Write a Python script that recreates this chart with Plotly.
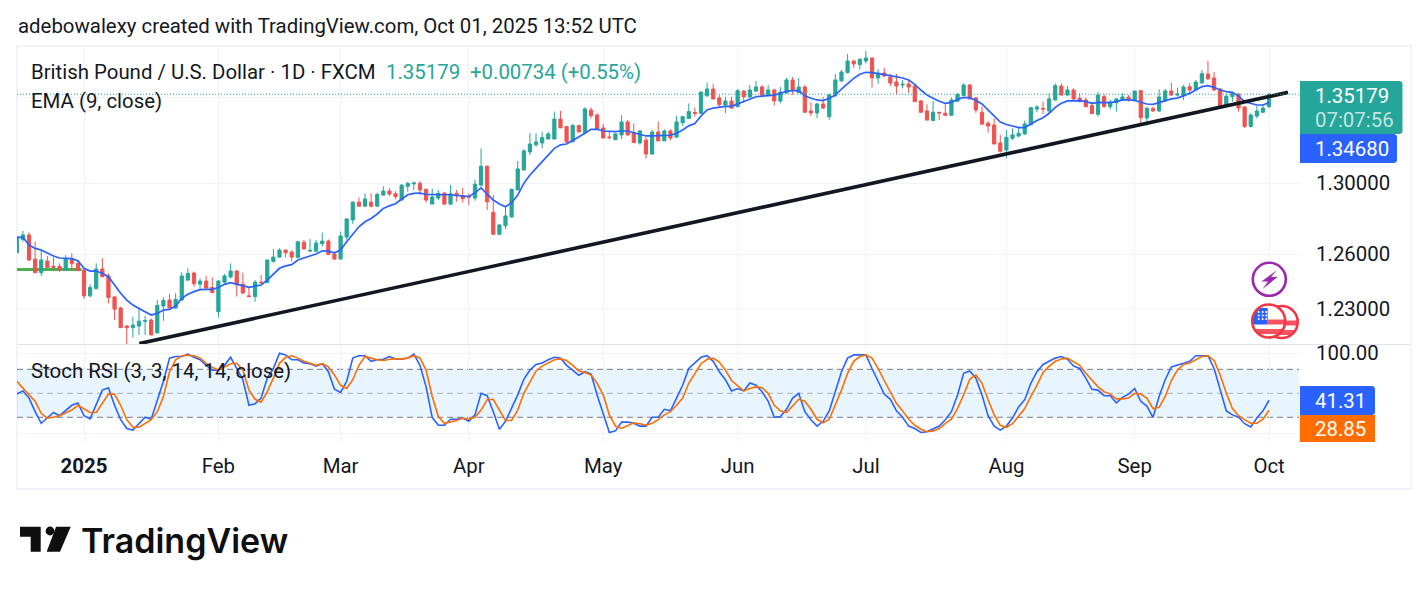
import math
import plotly.graph_objects as go

WIDTH, HEIGHT = 1428, 591
FONT = "Roboto"
INK = "#131722"
GRID = "#f0f3fa"
UP = "#26a69a"
DOWN = "#ef5350"
BLUE = "#2962ff"
ORANGE = "#ff6d00"

# Daily GBP/USD candles; bar 0 is mid December 2024
open_ = [
    1.2607,1.2681,1.2706,1.2572,1.2497,1.2561,1.2532,1.2532,1.2512,1.2570,
    1.2548,1.2512,1.2370,1.2409,1.2517,1.2479,1.2364,1.2304,1.2207,1.2198,
    1.2207,1.2232,1.2239,1.2170,1.2315,1.2347,1.2304,1.2347,1.2456,1.2495,
    1.2434,1.2451,1.2416,1.2284,1.2445,1.2473,1.2506,1.2434,1.2370,1.2366,
    1.2445,1.2442,1.2559,1.2583,1.2622,1.2611,1.2581,1.2666,1.2616,1.2616,
    1.2657,1.2672,1.2600,1.2572,1.2695,1.2790,1.2891,1.2868,1.2891,1.2868,
    1.2931,1.2954,1.2939,1.2903,1.2981,1.2995,1.2998,1.2964,1.2880,1.2914,
    1.2943,1.2880,1.2941,1.2928,1.2926,1.2914,1.2988,1.3096,1.2833,1.2710,
    1.2758,1.2807,1.2960,1.3075,1.3179,1.3220,1.3231,1.3254,1.3254,1.3371,
    1.3327,1.3237,1.3333,1.3291,1.3425,1.3395,1.3319,1.3266,1.3250,1.3278,
    1.3354,1.3290,1.3231,1.3248,1.3167,1.3295,1.3243,1.3301,1.3266,1.3350,
    1.3375,1.3410,1.3405,1.3509,1.3549,1.3496,1.3454,1.3478,1.3444,1.3537,
    1.3501,1.3537,1.3561,1.3511,1.3543,1.3478,1.3525,1.3603,1.3527,1.3561,
    1.3419,1.3407,1.3460,1.3385,1.3509,1.3597,1.3647,1.3717,1.3695,1.3717,
    1.3735,1.3615,1.3645,1.3621,1.3591,1.3573,1.3579,1.3567,1.3478,1.3419,
    1.3363,1.3411,1.3405,1.3393,1.3476,1.3511,1.3573,1.3496,1.3411,1.3347,
    1.3336,1.3231,1.3190,1.3258,1.3272,1.3284,1.3338,1.3430,1.3434,1.3419,
    1.3484,1.3567,1.3513,1.3543,1.3494,1.3484,1.3450,1.3399,1.3504,1.3444,
    1.3468,1.3484,1.3500,1.3480,1.3539,1.3377,1.3434,1.3419,1.3478,1.3537,
    1.3513,1.3509,1.3563,1.3545,1.3585,1.3639,1.3615,1.3549,1.3448,1.3504,
    1.3519,1.3442,1.3328,1.3389,1.3411,1.34445,
]
high = [
    1.2700,1.2728,1.2721,1.2668,1.2622,1.2589,1.2581,1.2548,1.2594,1.2604,
    1.2567,1.2521,1.2433,1.2548,1.2576,1.2493,1.2370,1.2311,1.2212,1.2257,
    1.2307,1.2261,1.2248,1.2347,1.2362,1.2380,1.2384,1.2499,1.2521,1.2503,
    1.2466,1.2479,1.2470,1.2456,1.2490,1.2548,1.2512,1.2497,1.2420,1.2456,
    1.2484,1.2567,1.2628,1.2631,1.2626,1.2622,1.2674,1.2678,1.2683,1.2678,
    1.2719,1.2681,1.2613,1.2725,1.2800,1.2895,1.2918,1.2941,1.2941,1.2945,
    1.2981,1.2970,1.2954,1.2992,1.3006,1.3008,1.3010,1.2968,1.2968,1.2960,
    1.2947,1.2988,1.2960,1.2972,1.2941,1.3019,1.3200,1.3102,1.2931,1.2768,
    1.2865,1.2968,1.3127,1.3196,1.3288,1.3288,1.3297,1.3297,1.3415,1.3419,
    1.3330,1.3343,1.3337,1.3441,1.3441,1.3405,1.3343,1.3297,1.3288,1.3393,
    1.3366,1.3346,1.3307,1.3266,1.3307,1.3356,1.3311,1.3311,1.3391,1.3391,
    1.3464,1.3438,1.3533,1.3587,1.3579,1.3513,1.3503,1.3503,1.3549,1.3543,
    1.3573,1.3597,1.3573,1.3573,1.3551,1.3561,1.3615,1.3621,1.3615,1.3573,
    1.3470,1.3468,1.3501,1.3523,1.3639,1.3663,1.3759,1.3725,1.3735,1.3777,
    1.3739,1.3669,1.3675,1.3639,1.3639,1.3603,1.3609,1.3573,1.3484,1.3458,
    1.3478,1.3411,1.3460,1.3499,1.3525,1.3583,1.3579,1.3499,1.3446,1.3359,
    1.3375,1.3279,1.3307,1.3316,1.3327,1.3362,1.3440,1.3454,1.3474,1.3523,
    1.3583,1.3583,1.3567,1.3553,1.3523,1.3498,1.3474,1.3533,1.3519,1.3484,
    1.3494,1.3523,1.3513,1.3539,1.3543,1.3444,1.3444,1.3547,1.3549,1.3587,
    1.3557,1.3573,1.3583,1.3603,1.3663,1.3718,1.3651,1.3553,1.3523,1.3533,
    1.3523,1.3448,1.3405,1.3448,1.3460,1.3525,
]
low = [
    1.2607,1.2668,1.2561,1.2497,1.2479,1.2512,1.2512,1.2501,1.2512,1.2512,
    1.2508,1.2353,1.2362,1.2409,1.2471,1.2329,1.2239,1.2198,1.2110,1.2145,
    1.2159,1.2159,1.2159,1.2168,1.2235,1.2304,1.2302,1.2344,1.2456,1.2420,
    1.2405,1.2409,1.2384,1.2252,1.2438,1.2466,1.2366,1.2379,1.2366,1.2338,
    1.2429,1.2442,1.2552,1.2579,1.2581,1.2559,1.2576,1.2628,1.2613,1.2613,
    1.2641,1.2594,1.2567,1.2572,1.2680,1.2768,1.2865,1.2865,1.2861,1.2868,
    1.2929,1.2926,1.2907,1.2899,1.2950,1.2960,1.2931,1.2888,1.2880,1.2903,
    1.2874,1.2874,1.2893,1.2888,1.2874,1.2899,1.2979,1.2846,1.2705,1.2706,
    1.2740,1.2803,1.2960,1.3071,1.3160,1.3210,1.3200,1.3254,1.3254,1.3319,
    1.3229,1.3237,1.3295,1.3291,1.3375,1.3307,1.3258,1.3252,1.3250,1.3254,
    1.3272,1.3233,1.3221,1.3140,1.3162,1.3243,1.3243,1.3246,1.3260,1.3331,
    1.3371,1.3385,1.3401,1.3503,1.3488,1.3440,1.3407,1.3432,1.3440,1.3468,
    1.3499,1.3531,1.3503,1.3507,1.3450,1.3464,1.3523,1.3513,1.3527,1.3407,
    1.3389,1.3377,1.3430,1.3367,1.3503,1.3593,1.3643,1.3675,1.3665,1.3703,
    1.3557,1.3579,1.3619,1.3567,1.3519,1.3553,1.3527,1.3474,1.3409,1.3365,
    1.3359,1.3365,1.3393,1.3393,1.3474,1.3507,1.3488,1.3407,1.3341,1.3291,
    1.3225,1.3175,1.3142,1.3248,1.3264,1.3278,1.3334,1.3411,1.3401,1.3405,
    1.3480,1.3511,1.3509,1.3484,1.3470,1.3440,1.3401,1.3385,1.3440,1.3428,
    1.3415,1.3478,1.3474,1.3474,1.3336,1.3332,1.3413,1.3413,1.3474,1.3509,
    1.3504,1.3484,1.3523,1.3539,1.3583,1.3607,1.3539,1.3444,1.3444,1.3474,
    1.3415,1.3318,1.3322,1.3375,1.3409,1.3435,
]
close = [
    1.2687,1.2706,1.2567,1.2497,1.2567,1.2526,1.2526,1.2512,1.2572,1.2546,
    1.2508,1.2370,1.2416,1.2517,1.2475,1.2361,1.2298,1.2198,1.2198,1.2212,
    1.2233,1.2237,1.2159,1.2318,1.2345,1.2304,1.2351,1.2479,1.2493,1.2436,
    1.2451,1.2413,1.2388,1.2451,1.2479,1.2506,1.2431,1.2386,1.2366,1.2445,
    1.2442,1.2567,1.2583,1.2622,1.2607,1.2583,1.2668,1.2628,1.2620,1.2661,
    1.2672,1.2598,1.2572,1.2700,1.2796,1.2891,1.2868,1.2909,1.2868,1.2935,
    1.2954,1.2937,1.2922,1.2988,1.2998,1.3000,1.2960,1.2903,1.2920,1.2941,
    1.2880,1.2939,1.2926,1.2911,1.2920,1.2993,1.3096,1.2893,1.2710,1.2762,
    1.2813,1.2964,1.3081,1.3185,1.3225,1.3237,1.3262,1.3284,1.3371,1.3319,
    1.3237,1.3333,1.3295,1.3431,1.3391,1.3313,1.3260,1.3262,1.3284,1.3354,
    1.3278,1.3233,1.3301,1.3167,1.3295,1.3243,1.3301,1.3260,1.3354,1.3385,
    1.3415,1.3405,1.3531,1.3549,1.3490,1.3456,1.3478,1.3436,1.3539,1.3503,
    1.3543,1.3561,1.3513,1.3543,1.3478,1.3531,1.3603,1.3543,1.3561,1.3411,
    1.3407,1.3460,1.3436,1.3513,1.3603,1.3651,1.3717,1.3699,1.3727,1.3735,
    1.3615,1.3645,1.3627,1.3585,1.3567,1.3577,1.3561,1.3474,1.3411,1.3365,
    1.3411,1.3407,1.3393,1.3484,1.3517,1.3573,1.3490,1.3424,1.3341,1.3330,
    1.3225,1.3183,1.3264,1.3278,1.3288,1.3342,1.3438,1.3442,1.3430,1.3490,
    1.3569,1.3513,1.3543,1.3490,1.3474,1.3444,1.3403,1.3513,1.3444,1.3472,
    1.3490,1.3502,1.3488,1.3537,1.3379,1.3434,1.3419,1.3502,1.3537,1.3513,
    1.3519,1.3561,1.3543,1.3591,1.3641,1.3609,1.3543,1.3448,1.3506,1.3523,
    1.3436,1.3328,1.3395,1.3419,1.3436,1.35179,
]
ema_9 = [
    1.2693,1.2693,1.2650,1.2631,1.2622,1.2604,1.2589,1.2578,1.2576,1.2574,
    1.2563,1.2521,1.2506,1.2506,1.2493,1.2475,1.2429,1.2384,1.2347,1.2320,
    1.2302,1.2284,1.2266,1.2275,1.2293,1.2297,1.2315,1.2357,1.2379,1.2393,
    1.2404,1.2405,1.2405,1.2416,1.2433,1.2442,1.2433,1.2423,1.2416,1.2423,
    1.2429,1.2456,1.2490,1.2521,1.2534,1.2541,1.2567,1.2578,1.2589,1.2600,
    1.2618,1.2616,1.2607,1.2622,1.2668,1.2711,1.2752,1.2780,1.2799,1.2824,
    1.2855,1.2870,1.2882,1.2909,1.2933,1.2941,1.2943,1.2935,1.2933,1.2933,
    1.2933,1.2933,1.2930,1.2926,1.2922,1.2945,1.2972,1.2937,1.2903,1.2880,
    1.2865,1.2888,1.2931,1.2998,1.3046,1.3084,1.3123,1.3162,1.3200,1.3220,
    1.3225,1.3245,1.3264,1.3288,1.3311,1.3311,1.3301,1.3297,1.3297,1.3301,
    1.3301,1.3291,1.3282,1.3272,1.3272,1.3272,1.3274,1.3276,1.3288,1.3307,
    1.3331,1.3345,1.3389,1.3425,1.3436,1.3442,1.3446,1.3446,1.3460,1.3476,
    1.3492,1.3503,1.3507,1.3509,1.3513,1.3523,1.3535,1.3539,1.3539,1.3509,
    1.3494,1.3484,1.3480,1.3494,1.3513,1.3549,1.3583,1.3613,1.3637,1.3649,
    1.3647,1.3643,1.3635,1.3629,1.3623,1.3615,1.3603,1.3577,1.3543,1.3513,
    1.3494,1.3476,1.3464,1.3470,1.3488,1.3499,1.3496,1.3482,1.3460,1.3425,
    1.3393,1.3353,1.3339,1.3331,1.3321,1.3321,1.3342,1.3362,1.3379,1.3405,
    1.3440,1.3464,1.3478,1.3480,1.3480,1.3474,1.3464,1.3470,1.3468,1.3468,
    1.3474,1.3484,1.3484,1.3482,1.3470,1.3460,1.3458,1.3470,1.3480,1.3490,
    1.3495,1.3507,1.3523,1.3543,1.3563,1.3569,1.3559,1.3543,1.3533,1.3529,
    1.3507,1.3474,1.3464,1.3454,1.3454,1.3468,
]
stoch_k = [
    49,53,44,27,12.5,19,26,22,29,35,
    38,22,18,35,54,57,35,17,6,4,
    12.5,20,17.5,40,65,94,96,96,99,95,
    92,85,79,79,85,95,81,67,35,37,
    44,69,81,100,98,92,92,88,87,84,
    87,77,55,51,65,94,97,97,90,92,
    92.5,96,93,92.5,94,99,85,58,20,10,
    10,17.5,17.5,19,15,23,50,47,27,5,
    15,31,48,67.5,79,86,88,92,95,94,
    85,79,72.5,77,74,48,24,1,3,14,
    14,12.5,9,9,20,20,30,28,44,60,
    81,87.5,95,97,90,77,67,53,56,53,
    63,60,52,40,20,21,30,44,50,27,
    17,9,15,28,54,77,94,98,98,98,
    81,65,49,42.5,28,20,9,6,1,2,
    6,9,17,27,48,75,78,69,48,22,
    9,4,9,19,33,42,62.5,77,86,90,
    94,96,92.5,84,81,69,55,54,47,47,
    38,45,49,56,40,34,20,46,67,83,
    85,87.5,90,97,97,97,81,54,28,23,
    20,12,8,19,28,41.31,
]
stoch_d = [
    65,56,48,40,25,19,20,22,25,29,
    35,31,26,26,37.5,49,49,35,17,7.5,
    7.5,12.5,17,27,46,77,92,97,97.5,97,
    94,87.5,82.5,79,83,87,87.5,79,54,42.5,
    39,52,69,87.5,95,97,94,90,87.5,85,
    87,83,73,60,56,67,85,96,94,92,
    91,92.5,93,93,94,97,94,79,46,21,
    12.5,14,16,19,17.5,20,29,42,42.5,29,
    16,16,29,50,65,78,84,88,92,93,
    91,85,78,76,73,62.5,48,23,9,6,
    10,13,12,10,12.5,17,23,27,35,44,
    62.5,75,87,92.5,94,89,79,66,59,53,
    56,58,57,50,35,28,26,34,42.5,40,
    30,17.5,13,17.5,35,54,75,90,96,98,
    94,81,66,52,37.5,28,17.5,10,5,2,
    3,6,12.5,17.5,31,48,67.5,73,62.5,42,
    23,10,7.5,12,22,31,46,60,76,84,
    90,93,94,90,85,75,66,58,52,49,
    43,43,44,50,49,44,31,32.5,46,66,
    79,86,88,92.5,96,97,91,73,50,31,
    22,17,12.5,12.5,17.5,28.85,
]

# Bar numbers that start each month on the time scale
month_bars = [11, 33, 53, 74, 96, 118, 139, 162, 183, 205]
month_labels = ["<b>2025</b>", "Feb", "Mar", "Apr", "May", "Jun", "Jul", "Aug", "Sep", "Oct"]

price_ticks = [1.23, 1.26, 1.30, 1.35]
price_labels = ["1.23000", "1.26000", "1.30000", ""]
stoch_ticks = [0, 100]
stoch_labels = ["", "100.00"]

# Hand-drawn objects on the price pane
trend_bars = [20.05, 208.1]
trend_prices = [1.2113, 1.3529]
support_bars = [0.03, 10.6]
support_price = 1.2514

last_price = close[-1]
ema_last = ema_9[-1]

bars = list(range(len(close)))
BAR_RANGE = [0.03, 209.9]
PRICE_LOG_RANGE = [0.08317, 0.14013]
STOCH_RANGE = [-10.9, 110.4]


def px(x):
    return x / WIDTH


def py(y):
    return 1 - y / HEIGHT


def poly(points, fill, line=None, width=0):
    d = "M " + " L ".join(f"{px(x):.5f},{py(y):.5f}" for x, y in points) + " Z"
    shape = dict(type="path", xref="paper", yref="paper", path=d, fillcolor=fill, layer="above")
    shape["line"] = dict(color=line, width=width) if line else dict(width=0)
    return shape


def disc(cx, cy, r, fill, line=None, width=0):
    return dict(
        type="circle", xref="paper", yref="paper",
        x0=px(cx - r), x1=px(cx + r), y0=py(cy + r), y1=py(cy - r),
        fillcolor=fill, layer="above",
        line=dict(color=line, width=width) if line else dict(width=0),
    )


def rounded_tag(x0, y0, x1, y1, fill, r=3):
    pts = [(x0, y0), (x1 - r, y0)]
    for k in range(1, 5):
        a = -math.pi / 2 + k * math.pi / 8
        pts.append((x1 - r + r * math.cos(a), y0 + r + r * math.sin(a)))
    pts.append((x1, y1 - r))
    for k in range(1, 5):
        a = k * math.pi / 8
        pts.append((x1 - r + r * math.cos(a), y1 - r + r * math.sin(a)))
    pts.append((x0, y1))
    return poly(pts, fill)


def chord_band(cx, cy, r, y0, y1, x_min=None, x_max=None):
    """Polygon for the part of a disc between two horizontals."""
    left, right = [], []
    for k in range(13):
        y = y0 + (y1 - y0) * k / 12
        half = math.sqrt(max(r * r - (y - cy) ** 2, 0))
        a = cx - half if x_min is None else max(cx - half, x_min)
        b = cx + half if x_max is None else min(cx + half, x_max)
        if a > b:
            a = b
        left.append((a, y))
        right.append((b, y))
    return right + left[::-1]


def flag_coin(cx, cy, r):
    red = "#f7525f"
    out = [disc(cx, cy, r, "#ffffff")]
    out.append(poly(chord_band(cx, cy, r, cy - 1.5, cy + 3.5, x_min=cx - 1), red))
    out.append(poly(chord_band(cx, cy, r, cy + 8, cy + 13), red))
    out.append(poly(chord_band(cx, cy, r, cy - 13, cy + 3.5, x_max=cx - 1), "#2962ff"))
    for dx in (-10, -6, -2.5):
        for dy in (-9, -5.5, -2):
            if dx * dx + dy * dy < (r - 3) ** 2:
                out.append(disc(cx + dx, cy + dy, 1.0, "#ffffff"))
    out.append(disc(cx, cy, r, "rgba(0,0,0,0)", "#f23645", 2.6))
    return out


fig = go.Figure()

fig.add_trace(go.Candlestick(
    x=bars, open=open_, high=high, low=low, close=close,
    xaxis="x", yaxis="y", whiskerwidth=0,
    increasing=dict(line=dict(color=UP, width=1), fillcolor=UP),
    decreasing=dict(line=dict(color=DOWN, width=1), fillcolor=DOWN),
    hoverinfo="skip", showlegend=False,
))
fig.add_trace(go.Scatter(
    x=bars, y=ema_9, mode="lines", xaxis="x", yaxis="y",
    line=dict(color=BLUE, width=1.7), hoverinfo="skip", showlegend=False,
))
fig.add_trace(go.Scatter(
    x=trend_bars, y=trend_prices, mode="lines", xaxis="x", yaxis="y",
    line=dict(color=INK, width=3.6), hoverinfo="skip", showlegend=False,
))
fig.add_trace(go.Scatter(
    x=bars, y=stoch_k, mode="lines", xaxis="x2", yaxis="y2",
    line=dict(color=BLUE, width=1.6), hoverinfo="skip", showlegend=False,
))
fig.add_trace(go.Scatter(
    x=bars, y=stoch_d, mode="lines", xaxis="x2", yaxis="y2",
    line=dict(color=ORANGE, width=1.6), hoverinfo="skip", showlegend=False,
))

shapes = [
    # outer frame and pane separator
    dict(type="rect", xref="paper", yref="paper", x0=px(17), x1=px(1411), y0=py(489), y1=py(46),
         line=dict(color=GRID, width=2), layer="below"),
    dict(type="line", xref="paper", yref="paper", x0=px(17), x1=px(1411), y0=py(344.5), y1=py(344.5),
         line=dict(color="#e0e3eb", width=1), layer="above"),
    # support level drawn under the candles
    dict(type="line", xref="x", yref="y", x0=support_bars[0], x1=support_bars[1],
         y0=support_price, y1=support_price, line=dict(color="#4caf50", width=3), layer="below"),
    # last price line
    dict(type="line", xref="x domain", yref="y", x0=0, x1=1, y0=last_price, y1=last_price,
         line=dict(color=UP, width=1, dash="1px,2px"), layer="above"),
    # oscillator band
    dict(type="rect", xref="x2 domain", yref="y2", x0=0, x1=1, y0=20, y1=80,
         fillcolor="rgba(33,150,243,0.1)", line=dict(width=0), layer="below"),
]
for level, color in ((80, "#787b86"), (50, "rgba(120,123,134,0.55)"), (20, "#787b86")):
    shapes.append(dict(type="line", xref="x2 domain", yref="y2", x0=0, x1=1, y0=level, y1=level,
                       line=dict(color=color, width=1, dash="6px,4px"), layer="below"))

# price and oscillator tags on the right scale
shapes += [
    rounded_tag(1300, 81, 1402.5, 134, UP),
    rounded_tag(1300, 134, 1397, 163, BLUE),
    rounded_tag(1300, 386, 1375, 415, BLUE),
    poly([(1300, 415), (1375, 415), (1375, 442), (1300, 442)], ORANGE),
]

# alert and event badges
shapes.append(disc(1269.3, 279.3, 16.5, "#ffffff", "#9c27b0", 2.6))
shapes.append(poly([(1277, 270), (1261.5, 281.5), (1268, 281.5),
                    (1262.5, 289), (1277.5, 277), (1271, 277)], "#9c27b0"))
shapes += flag_coin(1281.7, 322, 16)
shapes += flag_coin(1268.7, 321, 16.5)

# brand mark
shapes.append(poly([(20, 526.7), (40.7, 526.7), (40.7, 551.7), (30.7, 551.7), (30.7, 536.7), (20, 536.7)], "#0f0f0f"))
shapes.append(disc(50, 531, 4.4, "#0f0f0f"))
shapes.append(poly([(56, 526.7), (70.7, 526.7), (60, 551.7), (46.7, 551.7)], "#0f0f0f"))


def label(text, x, y, size=20.4, color=INK, anchor="left", weight=None):
    font = dict(family=FONT, size=size, color=color)
    if weight:
        font["weight"] = weight
    return dict(text=text, xref="paper", yref="paper", x=px(x - 2), y=py(y),
                xanchor=anchor, yanchor="middle", showarrow=False, font=font)


annotations = [
    label("adebowalexy created with TradingView.com, Oct 01, 2025 13:52 UTC", 18, 26),
    label("British Pound / U.S. Dollar · 1D · FXCM", 31, 72),
    label("1.35179", 386, 72, color=UP),
    label("+0.00734 (+0.55%)", 470, 72, color=UP),
    label("EMA (9, close)", 31, 101),
    label("Stoch RSI (3, 3, 14, 14, close)", 31, 371),
    label(f"{last_price:.5f}", 1315, 96, color="#ffffff"),
    label("07:07:56", 1315, 120, color="rgba(255,255,255,0.72)"),
    label(f"{ema_last:.5f}", 1315, 149, color="#ffffff"),
    label(f"{stoch_k[-1]:.2f}", 1315, 401, color="#ffffff"),
    label(f"{stoch_d[-1]:.2f}", 1315, 429, color="#ffffff"),
    dict(text="TradingView", xref="paper", yref="paper", x=px(79), y=py(540),
         xanchor="left", yanchor="middle", showarrow=False,
         font=dict(family="Inter", size=34, color="#0f0f0f", weight=600)),
]

x_domain = [px(17), px(1299)]
tick_font = dict(family=FONT, size=20.4, color=INK)

fig.update_layout(
    width=WIDTH, height=HEIGHT, autosize=False,
    margin=dict(l=0, r=0, t=0, b=0, pad=0, autoexpand=False),
    boxgap=0.25,
    paper_bgcolor="#ffffff", plot_bgcolor="#ffffff",
    showlegend=False, hovermode=False,
    shapes=shapes, annotations=annotations,
    xaxis=dict(
        domain=x_domain, anchor="y", range=BAR_RANGE, rangeslider=dict(visible=False),
        tickmode="array", tickvals=month_bars, ticktext=[""] * len(month_bars),
        showgrid=True, gridcolor=GRID, gridwidth=1, zeroline=False, showline=False, ticks="",
    ),
    yaxis=dict(
        domain=[py(344), py(46)], anchor="x", type="log", range=PRICE_LOG_RANGE, side="right",
        tickmode="array", tickvals=price_ticks, ticktext=price_labels, tickfont=tick_font,
        ticks="outside", ticklen=12, tickcolor="rgba(0,0,0,0)",
        showgrid=True, gridcolor=GRID, gridwidth=1, zeroline=False, showline=False,
    ),
    xaxis2=dict(
        domain=x_domain, anchor="y2", matches="x",
        tickmode="array", tickvals=month_bars, ticktext=month_labels, tickfont=tick_font,
        ticks="outside", ticklen=6, tickcolor="rgba(0,0,0,0)", tickangle=0,
        showgrid=True, gridcolor=GRID, gridwidth=1, zeroline=False, showline=False,
    ),
    yaxis2=dict(
        domain=[py(442), py(345)], anchor="x2", range=STOCH_RANGE, side="right",
        tickmode="array", tickvals=stoch_ticks, ticktext=stoch_labels, tickfont=tick_font,
        ticks="outside", ticklen=12, tickcolor="rgba(0,0,0,0)",
        showgrid=True, gridcolor=GRID, gridwidth=1, zeroline=False, showline=False,
    ),
)

fig.write_html("out.html")
